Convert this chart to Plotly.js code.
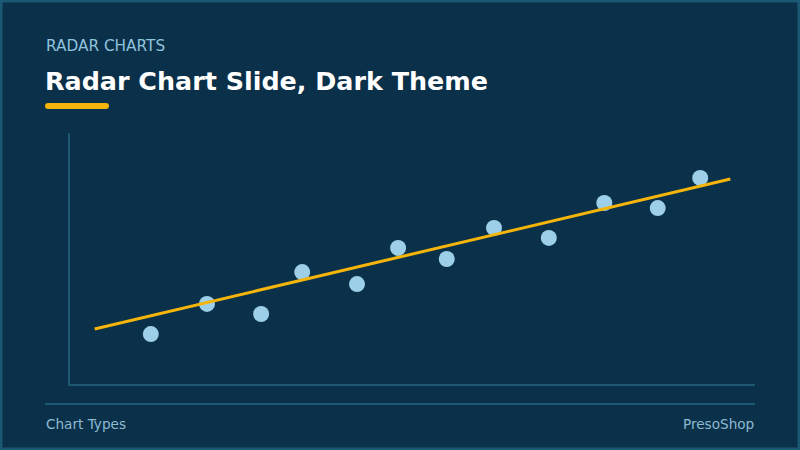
<!DOCTYPE html>
<html>
<head>
<meta charset="utf-8">
<script src="https://cdn.plot.ly/plotly-3.0.1.min.js"></script>
<style>html,body{margin:0;padding:0;background:#0b3049;}#chart{width:800px;height:450px;}</style>
</head>
<body>
<div id="chart"></div>
<script>
// Data
const pointX = [11.8, 20.0, 27.9, 33.9, 41.9, 47.9, 55.0, 61.9, 69.9, 78.0, 85.8, 92.0];
const pointY = [19.9, 31.9, 27.9, 44.6, 39.8, 54.2, 49.8, 62.2, 58.2, 72.1, 70.1, 82.1];
const trendX = [3.6, 96.4];
const trendY = [21.9, 81.7];

const kicker = "RADAR CHARTS";
const titleText = "Radar Chart Slide, Dark Theme";
const footerLeft = "Chart Types";
const footerRight = "PresoShop";

const W = 800, H = 450, L = 70, R = 45, T = 133, B = 66;
const PW = W - L - R, PH = H - T - B;
const px = x => (x - L) / PW;
const py = y => (H - B - y) / PH;

const BG = "#0b3049";
const AXIS = "#1d5873";

const traces = [
  {
    x: pointX, y: pointY, type: "scatter", mode: "markers",
    marker: {size: 16, color: "#9dcfe9", line: {width: 0}},
    hoverinfo: "skip", showlegend: false
  },
  {
    x: trendX, y: trendY, type: "scatter", mode: "lines",
    line: {color: "#f5b50a", width: 3},
    hoverinfo: "skip", showlegend: false
  }
];

const layout = {
  width: W, height: H,
  paper_bgcolor: BG, plot_bgcolor: BG,
  margin: {l: L, r: R, t: T, b: B, pad: 0},
  font: {family: "'DejaVu Sans', sans-serif"},
  showlegend: false,
  xaxis: {range: [0, 100], showgrid: false, zeroline: false, showticklabels: false, ticks: "",
          showline: true, linecolor: AXIS, linewidth: 2, fixedrange: true},
  yaxis: {range: [0, 100], showgrid: false, zeroline: false, showticklabels: false, ticks: "",
          showline: true, linecolor: AXIS, linewidth: 2, fixedrange: true},
  shapes: [
    // outer border
    {type: "rect", xref: "paper", yref: "paper", x0: px(1), x1: px(W - 1), y0: py(1), y1: py(H - 1),
     line: {color: "#1b5873", width: 3}, fillcolor: "rgba(0,0,0,0)", layer: "above"},
    // yellow accent bar
    {type: "line", xref: "paper", yref: "paper", x0: px(48), x1: px(106), y0: py(106), y1: py(106),
     line: {color: "#f5b50a", width: 6}},
    {type: "circle", xref: "paper", yref: "paper", x0: px(45), x1: px(51), y0: py(109), y1: py(103),
     line: {width: 0}, fillcolor: "#f5b50a"},
    {type: "circle", xref: "paper", yref: "paper", x0: px(103), x1: px(109), y0: py(109), y1: py(103),
     line: {width: 0}, fillcolor: "#f5b50a"},
    // footer divider
    {type: "line", xref: "paper", yref: "paper", x0: px(45), x1: px(755), y0: py(404), y1: py(404),
     line: {color: AXIS, width: 2}}
  ],
  annotations: [
    {text: kicker, xref: "paper", yref: "paper", x: px(44), y: py(46), xanchor: "left", yanchor: "middle",
     showarrow: false, font: {size: 15.3, color: "#8fc3de", family: "'DejaVu Sans', sans-serif"}},
    {text: "<b>" + titleText + "</b>", xref: "paper", yref: "paper", x: px(43), y: py(81), xanchor: "left", yanchor: "middle",
     showarrow: false, font: {size: 25.4, color: "#ffffff", family: "'DejaVu Sans', sans-serif"}},
    {text: footerLeft, xref: "paper", yref: "paper", x: px(44), y: py(424), xanchor: "left", yanchor: "middle",
     showarrow: false, font: {size: 13.6, color: "#8dbbd3", family: "'DejaVu Sans', sans-serif"}},
    {text: footerRight, xref: "paper", yref: "paper", x: px(756), y: py(424), xanchor: "right", yanchor: "middle",
     showarrow: false, font: {size: 13.6, color: "#8dbbd3", family: "'DejaVu Sans', sans-serif"}}
  ]
};

Plotly.newPlot("chart", traces, layout, {displayModeBar: false, staticPlot: true});
</script>
</body>
</html>
